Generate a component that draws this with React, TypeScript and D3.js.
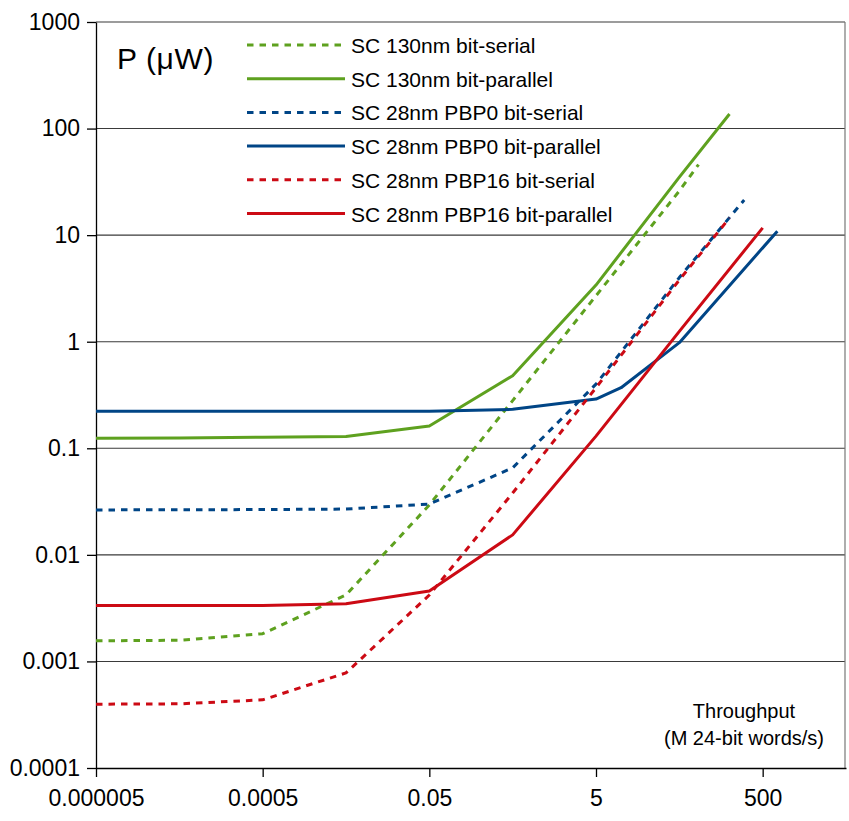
import { useEffect, useRef } from 'react';
import * as d3 from 'd3';

// series data (throughput in M words/s, power in uW)
const serial130X = [5e-6, 5e-5, 5e-4, 5e-3, 0.05, 0.5, 5, 50, 85]
const serial130Y = [0.00156, 0.00158, 0.00182, 0.0042, 0.0294, 0.28, 2.7, 26, 46]

const parallel130X = [5e-6, 5e-5, 5e-4, 5e-3, 0.05, 0.5, 5, 50, 200]
const parallel130Y = [0.1245, 0.125, 0.127, 0.129, 0.162, 0.48, 3.4, 35, 137]

const serialPbp0X = [5e-6, 5e-5, 5e-4, 5e-3, 0.05, 0.5, 5, 50, 300]
const serialPbp0Y = [0.0264, 0.0265, 0.0266, 0.0269, 0.03, 0.0655, 0.4, 4.0, 21.4]

const parallelPbp0X = [5e-6, 5e-5, 5e-4, 5e-3, 0.05, 0.5, 5, 10, 50, 750]
const parallelPbp0Y = [0.222, 0.222, 0.222, 0.222, 0.223, 0.232, 0.29, 0.37, 0.98, 10.9]

const serialPbp16X = [5e-6, 5e-5, 5e-4, 5e-3, 0.05, 0.5, 5, 50, 200]
const serialPbp16Y = [0.000397, 0.0004, 0.000436, 0.00078, 0.0042, 0.038, 0.37, 3.8, 14.5]

const parallelPbp16X = [5e-6, 5e-5, 5e-4, 5e-3, 0.05, 0.5, 5, 50, 500]
const parallelPbp16Y = [0.00334, 0.00334, 0.00335, 0.00347, 0.00459, 0.0154, 0.13, 1.25, 11.7]

const seriesNames = [
  'SC 130nm bit-serial',
  'SC 130nm bit-parallel',
  'SC 28nm PBP0 bit-serial',
  'SC 28nm PBP0 bit-parallel',
  'SC 28nm PBP16 bit-serial',
  'SC 28nm PBP16 bit-parallel',
]

const xTicks = [5e-6, 5e-4, 0.05, 5, 500]
const xTickLabels = ['0.000005', '0.0005', '0.05', '5', '500']
const yTicks = [1e-4, 1e-3, 1e-2, 0.1, 1, 10, 100, 1000]
const yTickLabels = ['0.0001', '0.001', '0.01', '0.1', '1', '10', '100', '1000']

const GREEN = '#5ea11f'
const BLUE = '#004586'
const RED = '#cc0a14'
const FONT = '"Liberation Sans", Arial, sans-serif'

function App() {
  const svgRef = useRef<SVGSVGElement>(null)

  useEffect(() => {
    const svg = d3.select(svgRef.current)
    svg.selectAll('*').remove()

    const left = 96, right = 846, top = 22, bottom = 768

    const x = d3.scaleLog().domain([5e-6, 5e3]).range([left, right])
    const y = d3.scaleLog().domain([1e-4, 1e3]).range([bottom, top])

    // horizontal gridlines
    svg.append('g')
      .selectAll('line')
      .data(yTicks.slice(1))
      .enter()
      .append('line')
      .attr('x1', left)
      .attr('x2', right - 1)
      .attr('y1', d => y(d))
      .attr('y2', d => y(d))
      .attr('stroke', '#3a3a3a')
      .attr('stroke-width', 1.1)

    // right border
    svg.append('line')
      .attr('x1', right - 1).attr('x2', right - 1)
      .attr('y1', top).attr('y2', bottom)
      .attr('stroke', '#777')
      .attr('stroke-width', 1.2)

    const yAxis = d3.axisLeft(y)
      .tickValues(yTicks)
      .tickFormat((d, i) => yTickLabels[i])
      .tickSize(9)
      .tickPadding(7)
      .tickSizeOuter(0)
    svg.append('g')
      .attr('transform', `translate(${left},0)`)
      .call(yAxis)
      .call(g => g.selectAll('text').attr('font-size', 23).attr('font-family', FONT).attr('fill', '#000'))
      .call(g => g.selectAll('line, path').attr('stroke', '#000').attr('stroke-width', 1.3))

    const xAxis = d3.axisBottom(x)
      .tickValues(xTicks)
      .tickFormat((d, i) => xTickLabels[i])
      .tickSize(9)
      .tickPadding(13)
      .tickSizeOuter(0)
    svg.append('g')
      .attr('transform', `translate(0,${bottom})`)
      .call(xAxis)
      .call(g => g.selectAll('text').attr('font-size', 23).attr('font-family', FONT).attr('fill', '#000'))
      .call(g => g.selectAll('line, path').attr('stroke', '#000').attr('stroke-width', 1.3))

    const series = [
      { xs: serial130X, ys: serial130Y, color: GREEN, dashed: true },
      { xs: parallel130X, ys: parallel130Y, color: GREEN, dashed: false },
      { xs: serialPbp0X, ys: serialPbp0Y, color: BLUE, dashed: true },
      { xs: parallelPbp0X, ys: parallelPbp0Y, color: BLUE, dashed: false },
      { xs: serialPbp16X, ys: serialPbp16Y, color: RED, dashed: true },
      { xs: parallelPbp16X, ys: parallelPbp16Y, color: RED, dashed: false },
    ]

    const line = d3.line<[number, number]>()
      .x(d => x(d[0]))
      .y(d => y(d[1]))

    series.forEach(s => {
      const pts = s.xs.map((v, i) => [v, s.ys[i]] as [number, number])
      svg.append('path')
        .attr('d', line(pts))
        .attr('fill', 'none')
        .attr('stroke', s.color)
        .attr('stroke-width', 3)
        .attr('stroke-linejoin', 'round')
        .attr('stroke-dasharray', s.dashed ? '6.5,6' : null)
    })

    // axis captions
    svg.append('text')
      .attr('x', 117).attr('y', 69)
      .attr('font-family', FONT).attr('font-size', 30)
      .attr('letter-spacing', 0.6)
      .text('P (μW)')

    svg.append('text')
      .attr('x', 744).attr('y', 718)
      .attr('text-anchor', 'middle')
      .attr('font-family', FONT).attr('font-size', 20)
      .text('Throughput')
    svg.append('text')
      .attr('x', 744).attr('y', 745)
      .attr('text-anchor', 'middle')
      .attr('font-family', FONT).attr('font-size', 20)
      .text('(M 24-bit words/s)')

    // legend
    const legend = svg.append('g')
    series.forEach((s, i) => {
      const ly = 45 + i * 33.7
      legend.append('line')
        .attr('x1', 247).attr('x2', 345)
        .attr('y1', ly).attr('y2', ly)
        .attr('stroke', s.color)
        .attr('stroke-width', 3)
        .attr('stroke-dasharray', s.dashed ? '6.5,6' : null)
      legend.append('text')
        .attr('x', 351).attr('y', ly + 8)
        .attr('font-family', FONT).attr('font-size', 21)
        .text(seriesNames[i])
    })
  }, [])

  return (
    <div style={{ position: 'absolute', left: 0, top: 0 }}>
      <svg ref={svgRef} width={849} height={821} style={{ display: 'block', background: '#fff' }}></svg>
    </div>
  )
}

export default App
